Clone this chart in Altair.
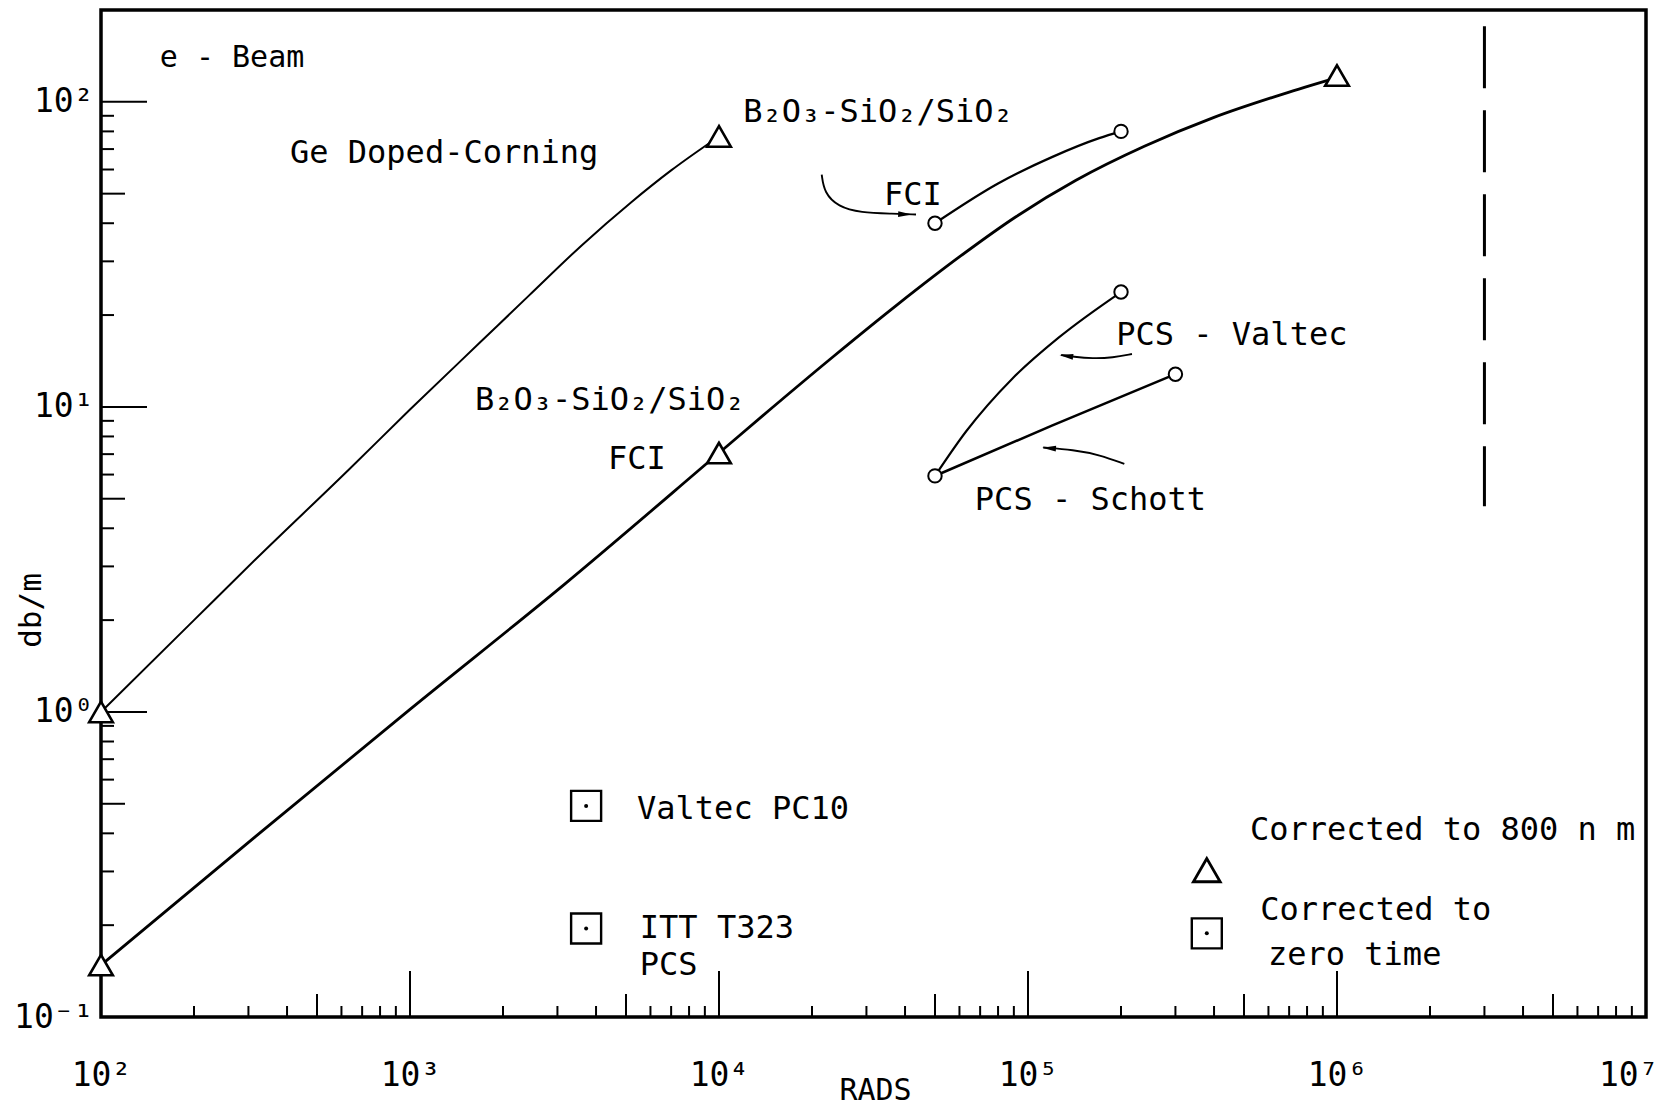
import altair as alt
import pandas as pd

MONO = "DejaVu Sans Mono"
W, H = 1545, 1007
X_DOMAIN = [100, 1e7]
Y_DOMAIN = [0.1, 200]

# ---- data ----
# Ge Doped-Corning (triangles at ends)
ge_x = [100, 200, 316, 631, 1000, 1700, 2430, 3600, 5190, 7000, 10000]
ge_y = [1.0, 2.0, 3.16, 6.2, 9.8, 16.4, 23.2, 33.9, 46.8, 59.6, 77]
# B2O3-SiO2/SiO2 FCI (triangles)
fci_x = [100, 316, 1000, 3160, 10000, 14500, 23400, 37700,
         60700, 91400, 143000, 239000, 400000, 668000, 1000000]
fci_y = [0.148, 0.39, 1.02, 2.62, 7.06, 9.73, 14.6, 21.6,
         31.3, 42.0, 55.3, 71.6, 88.9, 106, 120]
# B2O3-SiO2/SiO2 FCI (circles)
fci2_x = [50000, 80000, 120000, 170000, 200000]
fci2_y = [40, 54, 66, 76, 80]
# PCS - Valtec
val_x = [50000, 63100, 89100, 125900, 200000]
val_y = [5.94, 8.32, 12.4, 16.9, 23.8]
# PCS - Schott
sch_x = [50000, 120000, 300000]
sch_y = [5.94, 8.7, 12.8]

# annotation arrows
arr_fci_x = [21500, 21900, 24300, 28700, 36600, 43400]
arr_fci_y = [57.7, 50.4, 45.3, 43.3, 43.0, 42.7]
arr_val_x = [217000, 188000, 162000, 140000, 128000]
arr_val_y = [14.9, 14.5, 14.4, 14.6, 14.8]
arr_sch_x = [205000, 171000, 140000, 112000]
arr_sch_y = [6.50, 6.96, 7.23, 7.36]
head_x = [40000, 133000, 117000]
head_y = [42.8, 14.7, 7.32]
head_angle = [2, 188, 184]

# markers
tri_x = [100, 10000, 100, 10000, 1000000]
tri_y = [1.0, 77, 0.148, 7.06, 122]
circ_x = [50000, 200000, 50000, 200000, 300000]
circ_y = [40, 80, 5.94, 23.8, 12.8]
sq_x = [3715, 3715, 379000]
sq_y = [0.492, 0.195, 0.188]
leg_tri_x = [379000]
leg_tri_y = [0.303]

# dashed vertical line
dash_x = [3e6, 3e6]
dash_y = [177, 4.72]

# texts
txt = [
    ("e - Beam", 155, 130, 30),
    ("Ge Doped-Corning", 409, 63, 32),
    ("B\u2082O\u2083-SiO\u2082/SiO\u2082", 11970, 86, 32),
    ("FCI", 34200, 45.9, 32),
    ("B\u2082O\u2083-SiO\u2082/SiO\u2082", 1622, 9.8, 32),
    ("FCI", 4375, 6.27, 32),
    ("PCS - Valtec", 193000, 16.0, 32),
    ("PCS - Schott", 67300, 4.59, 32),
    ("Valtec PC10", 5430, 0.446, 32),
    ("ITT T323", 5544, 0.1815, 32),
    ("PCS", 5544, 0.1374, 32),
    ("Corrected to 800 n m", 523000, 0.38, 32),
    ("Corrected to", 564000, 0.208, 32),
    ("zero time", 598000, 0.148, 32),
]

# axis ticks / labels
x_tick_values = [1e2, 1e3, 1e4, 1e5, 1e6, 1e7]
x_tick_labels = ["10\u00b2", "10\u00b3", "10\u2074", "10\u2075", "10\u2076", "10\u2077"]
y_tick_values = [0.1, 1, 10, 100]
y_tick_labels = ["10\u207b\u00b9", "10\u2070", "10\u00b9", "10\u00b2"]
x_decades = [1e2, 1e3, 1e4, 1e5, 1e6]
y_decades = [0.1, 1, 10]
minor_mult = [2, 3, 4, 6, 7, 8, 9]

x_major = x_tick_values
x_five = [5 * d for d in x_decades]
x_minor = [m * d for d in x_decades for m in minor_mult]
y_major = y_tick_values
y_five = [5 * d for d in y_decades]
y_minor = [m * d for d in y_decades for m in minor_mult]


def label_expr(vals, labs):
    parts = [f"datum.value == {v} ? '{l}'" for v, l in zip(vals, labs)]
    return " : ".join(parts) + " : ''"


xscale = alt.Scale(type="log", domain=X_DOMAIN, nice=False)
yscale = alt.Scale(type="log", domain=Y_DOMAIN, nice=False)

x_axis = alt.Axis(
    values=x_tick_values, labelExpr=label_expr(x_tick_values, x_tick_labels),
    ticks=False, tickSize=0, domain=False, grid=False,
    labelFont=MONO, labelFontSize=33, labelColor="black",
    labelBaseline="alphabetic", labelPadding=68,
    labelAlign={"condition": {"test": "datum.value > 5000000", "value": "right"}, "value": "center"},
    labelOffset={"condition": {"test": "datum.value > 5000000", "value": 12}, "value": 0},
    title="RADS", titleFont=MONO, titleFontSize=30, titleFontWeight="normal",
    titleColor="black", titleX=774, titleY=82, titleBaseline="alphabetic", titleAlign="center",
)
y_axis = alt.Axis(
    values=y_tick_values, labelExpr=label_expr(y_tick_values, y_tick_labels),
    ticks=False, tickSize=0, domain=False, grid=False,
    labelFont=MONO, labelFontSize=33, labelColor="black",
    labelAlign="right", labelBaseline="middle", labelPadding=8,
    title="db/m", titleFont=MONO, titleFontSize=31, titleFontWeight="normal",
    titleColor="black", titleAngle=270, titleX=-70, titleY=600,
    titleBaseline="middle", titleAlign="center",
)


def series_df(name, xs, ys, sw):
    return pd.DataFrame({"series": name, "i": list(range(len(xs))), "x": xs, "y": ys, "sw": sw})


lines_df = pd.concat([
    series_df("ge", ge_x, ge_y, 2.0),
    series_df("fci", fci_x, fci_y, 2.8),
    series_df("fci2", fci2_x, fci2_y, 2.3),
    series_df("valtec", val_x, val_y, 2.1),
    series_df("schott", sch_x, sch_y, 2.5),
])
arrows_df = pd.concat([
    series_df("a1", arr_fci_x, arr_fci_y, 1.9),
    series_df("a2", arr_val_x, arr_val_y, 1.9),
    series_df("a3", arr_sch_x, arr_sch_y, 1.9),
])

X = lambda: alt.X("x:Q", scale=xscale, axis=x_axis)
Y = lambda: alt.Y("y:Q", scale=yscale, axis=y_axis)

lines = alt.Chart(lines_df).mark_line(color="black", interpolate="monotone").encode(
    x=X(), y=Y(),
    detail="series:N", order="i:Q",
    strokeWidth=alt.StrokeWidth("sw:Q", scale=None),
)
arrows = alt.Chart(arrows_df).mark_line(color="black", interpolate="basis").encode(
    x=X(), y=Y(), detail="series:N", order="i:Q",
    strokeWidth=alt.StrokeWidth("sw:Q", scale=None),
)
heads = alt.Chart(pd.DataFrame({"x": head_x, "y": head_y, "a": head_angle})).mark_point(
    shape="M-1,-0.42L1,0L-1,0.42Z", filled=True, color="black", size=190, opacity=1
).encode(x=X(), y=Y(), angle=alt.Angle("a:Q", scale=None))

dash = alt.Chart(pd.DataFrame({"x": dash_x, "y": dash_y})).mark_line(
    color="black", strokeWidth=3, strokeDash=[62, 22]
).encode(x=X(), y=Y())

tris = alt.Chart(pd.DataFrame({"x": tri_x, "y": tri_y})).mark_point(
    shape="triangle-up", size=560, filled=True, fill="white", stroke="black",
    strokeWidth=2.6, opacity=1
).encode(x=X(), y=Y())
leg_tri = alt.Chart(pd.DataFrame({"x": leg_tri_x, "y": leg_tri_y})).mark_point(
    shape="triangle-up", size=720, filled=True, fill="white", stroke="black",
    strokeWidth=2.8, opacity=1
).encode(x=X(), y=Y())
circs = alt.Chart(pd.DataFrame({"x": circ_x, "y": circ_y})).mark_point(
    shape="circle", size=180, filled=True, fill="white", stroke="black",
    strokeWidth=2.0, opacity=1
).encode(x=X(), y=Y())
sqs = alt.Chart(pd.DataFrame({"x": sq_x, "y": sq_y})).mark_point(
    shape="square", size=900, filled=False, stroke="black", strokeWidth=2.4, opacity=1
).encode(x=X(), y=Y())
dots = alt.Chart(pd.DataFrame({"x": sq_x, "y": sq_y})).mark_point(
    shape="circle", size=16, filled=True, color="black", opacity=1
).encode(x=X(), y=Y())

texts = alt.Chart(pd.DataFrame(txt, columns=["text", "x", "y", "fs"])).mark_text(
    align="left", baseline="alphabetic", font=MONO, color="black"
).encode(x=X(), y=Y(), text="text:N", size=alt.Size("fs:Q", scale=None))


def xticks(vals, length):
    return alt.Chart(pd.DataFrame({"x": vals})).mark_rule(color="black", strokeWidth=2).encode(
        x=X(), y=alt.value(H), y2=alt.value(H - length))


def yticks(vals, length):
    return alt.Chart(pd.DataFrame({"y": vals})).mark_rule(color="black", strokeWidth=2).encode(
        y=Y(), x=alt.value(0), x2=alt.value(length))


chart = alt.layer(
    lines, arrows, heads, dash,
    xticks(x_major, 46), xticks(x_five, 23), xticks(x_minor, 11),
    yticks(y_major, 46), yticks(y_five, 24), yticks(y_minor, 13),
    tris, leg_tri, circs, sqs, dots, texts,
).properties(
    width=W, height=H,
    autosize=alt.AutoSizeParams(type="none"),
    padding={"left": 93, "top": 2, "right": 11, "bottom": 88},
    background="white",
).configure_view(stroke="black", strokeWidth=3.5)

chart.save("out.html", embed_options={"renderer": "svg", "actions": False})
